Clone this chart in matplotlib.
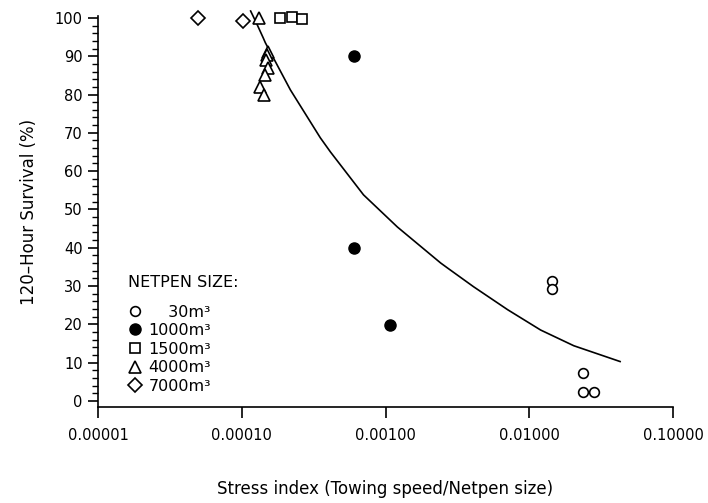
import numpy as np
import matplotlib
matplotlib.use('Agg')
import matplotlib.pyplot as plt
from matplotlib.ticker import FixedLocator, MultipleLocator, FormatStrFormatter

# stress index (towing speed / netpen size) and 120-h survival (%) per netpen size
x_30 = [0.0143, 0.0143, 0.0236, 0.0236, 0.0282]
y_30 = [31.3, 29.2, 7.3, 2.3, 2.3]

x_1000 = [0.00060, 0.00060, 0.00107]
y_1000 = [90.0, 40.0, 19.7]

x_1500 = [0.000185, 0.000225, 0.000263]
y_1500 = [100.0, 100.3, 99.7]

x_4000 = [0.000132, 0.000153, 0.000150, 0.000148, 0.000153, 0.000144, 0.000135, 0.000142]
y_4000 = [100.0, 91.0, 90.2, 89.0, 87.0, 85.0, 82.0, 80.0]

x_7000 = [0.0000498, 0.000102]
y_7000 = [100.0, 99.2]

# fitted curve
curve_x = [0.0001146, 0.000126, 0.000141, 0.000146, 0.000218, 0.000352, 0.000414,
           0.000703, 0.00121, 0.00242, 0.00270, 0.00410, 0.00708, 0.0120,
           0.0204, 0.0434]
curve_y = [102.0, 98.8, 94.8, 93.5, 81.2, 68.7, 65.0, 53.8, 45.4, 36.0, 34.7,
           29.8, 23.8, 18.5, 14.4, 10.2]

x_ticks = [0.00001, 0.0001, 0.001, 0.01, 0.1]

plt.rcParams['font.family'] = ['DejaVu Sans']
plt.rcParams['font.size'] = 10.5

fig = plt.figure(figsize=(7.08, 5.03), dpi=100)
ax = fig.add_axes([98 / 708, 1 - 407 / 503, 575 / 708, 391 / 503])

ax.plot(curve_x, curve_y, color='black', lw=1.2, solid_capstyle='butt', clip_on=False)

ax.plot(x_30, y_30, 'o', ms=7, mfc='white', mec='black', mew=1.2, ls='none',
        clip_on=False, label='\u2007\u200730m³')
ax.plot(x_1000, y_1000, 'o', ms=8, mfc='black', mec='black', ls='none',
        clip_on=False, label='1000m³')
ax.plot(x_1500, y_1500, 's', ms=7.5, mfc='white', mec='black', mew=1.2, ls='none',
        clip_on=False, label='1500m³')
ax.plot(x_4000, y_4000, '^', ms=8, mfc='white', mec='black', mew=1.2, ls='none',
        clip_on=False, label='4000m³')
ax.plot(x_7000, y_7000, 'D', ms=7, mfc='white', mec='black', mew=1.2, ls='none',
        clip_on=False, label='7000m³')

ax.set_xscale('log')
ax.set_xlim(0.00001, 0.1)
ax.set_ylim(-1.6, 100.5)
ax.xaxis.set_major_locator(FixedLocator(x_ticks))
ax.xaxis.set_minor_locator(FixedLocator([]))
ax.xaxis.set_major_formatter(FormatStrFormatter('%.5f'))
ax.yaxis.set_major_locator(MultipleLocator(10))
ax.yaxis.set_minor_locator(MultipleLocator(2))

for s in ['top', 'right']:
    ax.spines[s].set_visible(False)
for s in ['left', 'bottom']:
    ax.spines[s].set_linewidth(1.2)

ax.tick_params(axis='x', which='major', direction='out', length=8, width=1.2, pad=7)
ax.tick_params(axis='y', which='major', direction='out', length=7, width=1.2, pad=4)
ax.tick_params(axis='y', which='minor', direction='out', length=4, width=1)

ax.set_xlabel('Stress index (Towing speed/Netpen size)', fontsize=12, labelpad=27)
ax.set_ylabel('120\u2013Hour Survival (%)', fontsize=12, labelpad=12)

ax.text(0.052, 0.318, 'NETPEN SIZE:', transform=ax.transAxes, fontsize=11.5,
        ha='left', va='center')
leg = ax.legend(loc='upper left', bbox_to_anchor=(0.05, 0.262),
                frameon=False, handlelength=1.0, fontsize=11.5,
                handletextpad=0.35, labelspacing=0.22, borderaxespad=0,
                borderpad=0)

fig.savefig('out.png', dpi=100)
